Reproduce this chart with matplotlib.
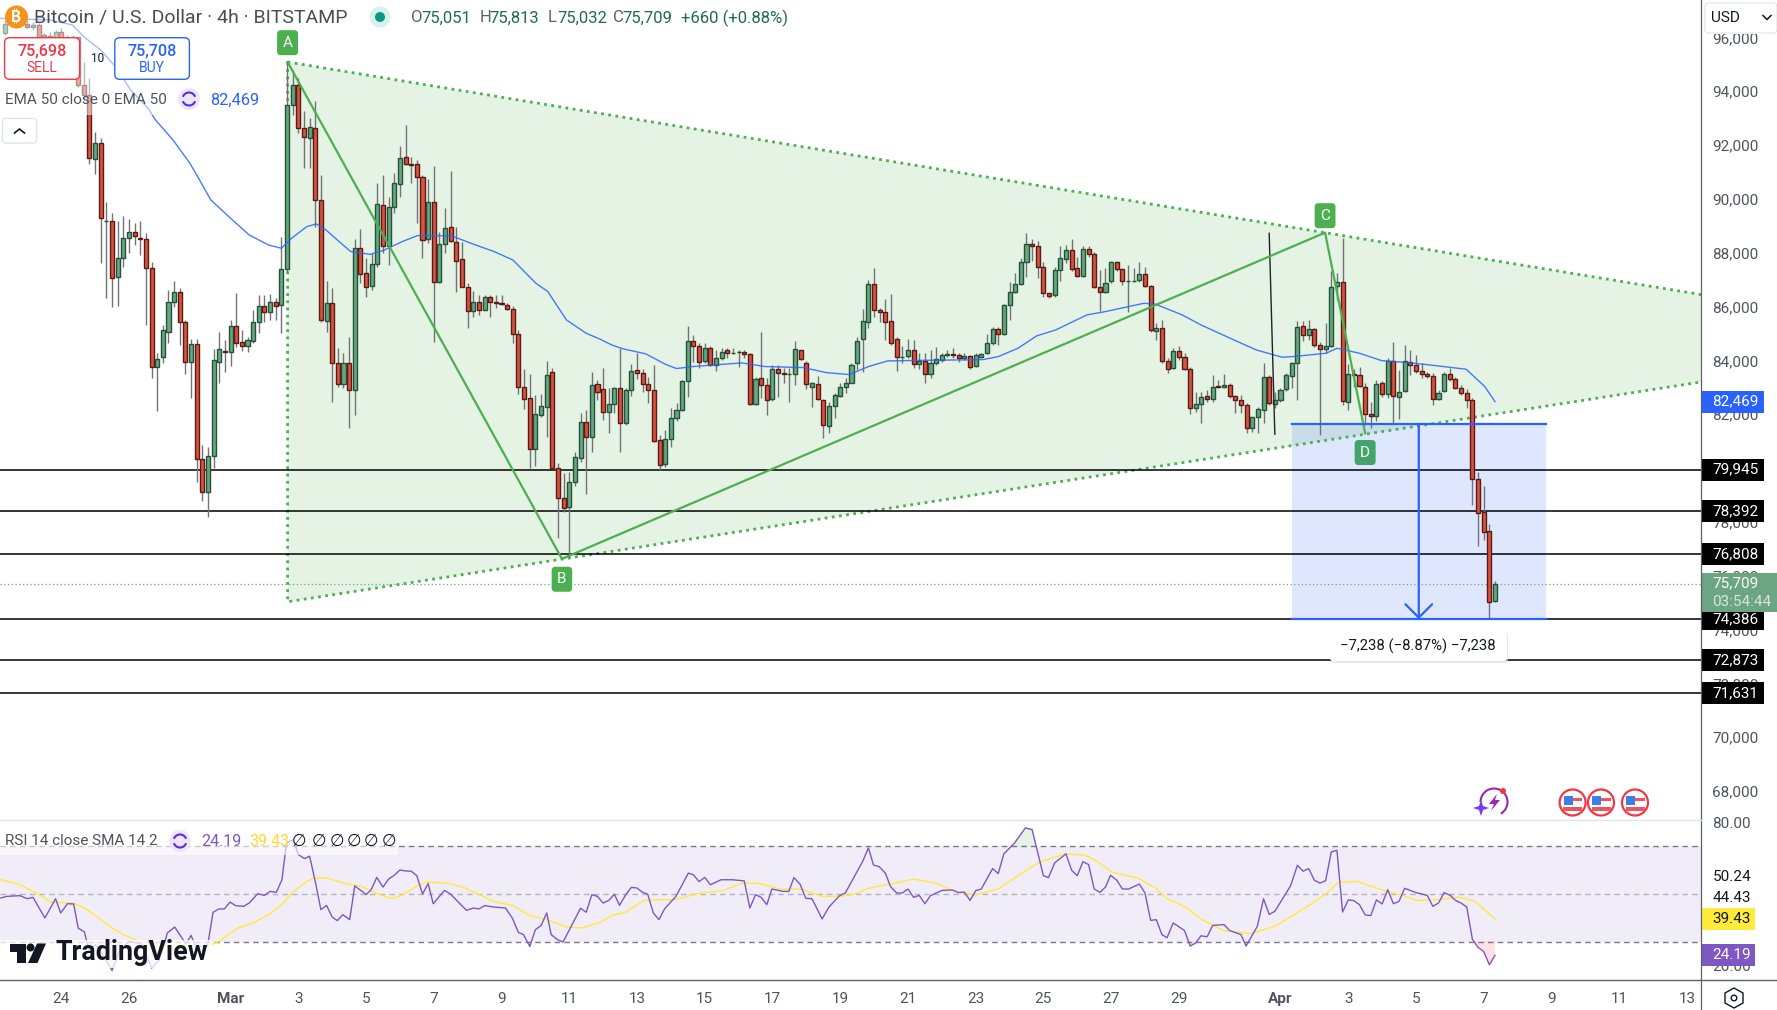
import numpy as np
import matplotlib
matplotlib.use("Agg")
import matplotlib.pyplot as plt
from matplotlib.patches import Rectangle, FancyBboxPatch, Circle, Polygon, Arc

plt.rcParams['font.family'] = ['Roboto', 'DejaVu Sans']

# 4h candles, bar 0 = Mar 1 00:00
first_bar = -40
opens = [
    96175, 96580, 96500, 96645, 96500, 96370, 96460, 96090, 96050, 96000,
    96190, 96000, 95900, 96000, 94230, 93860, 91470, 92060, 89180, 89180,
    87090, 87790, 88535, 88760, 88560, 88500, 87420, 83745, 84115, 85070,
    86160, 86555, 85415, 83955, 84600, 80330, 79100, 80440, 83955, 84365,
    84300, 85280, 84675, 84550, 84735, 85415, 86025, 85810, 86160, 86050,
    87385, 93475, 94220, 92620, 92250, 92620, 89950, 85480, 86120, 83895,
    83115, 83895, 82890, 88165, 87235, 86780, 87570, 89760, 88265, 89685,
    90540, 91545, 91285, 91285, 90825, 88500, 89875, 86925, 88315, 88945,
    88390, 87755, 86715, 85850, 86160, 85875, 86345, 86160, 86150, 86060,
    85900, 84970, 83000, 82595, 80690, 81985, 82285, 83560, 79995, 78880,
    78570, 79475, 80390, 81700, 81170, 83115, 82930, 82075, 82370, 82965,
    81690, 82890, 83630, 83520, 83115, 82890, 81035, 80140, 81070, 81850,
    82150, 83225, 84710, 84525, 83970, 84450, 83820, 84080, 84375, 84280,
    84330, 84300, 84225, 82370, 83335, 83075, 82555, 83670, 83520, 83485,
    83485, 84375, 83895, 83025, 83115, 82520, 81550, 82295, 82670, 83025,
    83175, 83895, 84785, 85415, 86830, 85865, 85790, 85455, 84785, 84115,
    84155, 84375, 83855, 83970, 83485, 83895, 84005, 84215, 84230, 84190,
    84080, 84155, 83785, 84115, 84265, 84635, 85155, 84970, 86050, 86530,
    86830, 87645, 88315, 88240, 87460, 86495, 86420, 87345, 87755, 88090,
    87420, 87125, 88130, 87940, 86715, 86555, 86940, 87645, 87385, 86940,
    86950, 87000, 87200, 86755, 85105, 85195, 83970, 83710, 84340, 84115,
    83670, 82220, 82370, 82695, 82580, 83050, 83025, 83075, 82670, 82520,
    82335, 81480, 81885, 82150, 83375, 82370, 82520, 82925, 83410, 83895,
    85270, 84935, 85155, 84560, 84415, 84525, 86755, 86900, 82445, 83485,
    83450, 83000, 81995, 81925, 83150, 82740, 83970, 82630, 82855, 83930,
    83820, 83595, 83485, 83410, 82555, 82855, 83485, 83300, 82965, 82780,
    82520, 79585, 78360, 77665, 75051]
highs = [
    96645, 96710, 96710, 96770, 96645, 96580, 96520, 96150, 96210, 96270,
    96335, 96090, 96090, 96025, 95100, 94480, 92500, 92275, 89900, 89465,
    89180, 89365, 89240, 89095, 89190, 88720, 87640, 84265, 85320, 86620,
    86950, 86680, 85500, 84800, 84800, 80860, 80800, 84425, 85045, 84760,
    85500, 86490, 85130, 84885, 85875, 86430, 86430, 86455, 86310, 88570,
    95085, 94790, 94480, 93265, 93000, 93635, 90890, 86950, 86680, 84450,
    84265, 84870, 88500, 88870, 87795, 87980, 90580, 90890, 90085, 90975,
    91980, 92745, 91570, 91445, 90890, 90725, 91220, 88760, 89650, 91035,
    88970, 88410, 86865, 86590, 86430, 86430, 86430, 86430, 86430, 86125,
    86020, 85130, 83680, 83500, 82720, 82755, 83980, 83720, 80180, 79810,
    79860, 80600, 82030, 82160, 83570, 83275, 83710, 82965, 83025, 84450,
    82965, 83870, 84265, 83670, 83400, 83830, 81235, 81420, 82220, 82410,
    83275, 85280, 84945, 84635, 84635, 84535, 84390, 84450, 84450, 84470,
    84390, 84390, 84265, 83400, 85055, 83335, 83830, 83830, 83710, 83710,
    84725, 84390, 83980, 83210, 83420, 82555, 82470, 82780, 83150, 83335,
    83895, 84860, 85900, 87000, 87420, 85935, 86280, 86470, 84885, 84540,
    84785, 84760, 84265, 84265, 84390, 84490, 84265, 84390, 84450, 84265,
    84265, 84200, 84265, 84265, 84970, 85255, 85255, 86100, 86900, 87235,
    87795, 88730, 88500, 88450, 87670, 86495, 87485, 88250, 88290, 88510,
    87855, 88250, 88250, 88040, 87360, 87420, 87695, 87695, 87420, 87545,
    87420, 87670, 87485, 86805, 85380, 85500, 84080, 84450, 84540, 84265,
    83770, 82815, 82840, 82905, 83460, 83275, 83500, 83150, 82720, 82720,
    82410, 81910, 82285, 83895, 83460, 82840, 82965, 83545, 83955, 85465,
    85465, 85500, 85195, 84700, 85380, 87325, 87235, 88535, 83870, 83670,
    83770, 83150, 82470, 83275, 83250, 84080, 84690, 83645, 84575, 84390,
    84200, 83895, 83585, 83520, 82905, 83585, 83710, 83400, 83090, 82925,
    82595, 79845, 79315, 77925, 75813]
lows = [
    96090, 96460, 96400, 96460, 96335, 96270, 95960, 95840, 95780, 95720,
    95530, 95655, 94910, 94170, 93670, 91300, 90910, 87610, 86310, 85990,
    86035, 87480, 87980, 88290, 87920, 85320, 83360, 82135, 83920, 84640,
    85980, 84575, 83500, 82605, 79485, 78780, 78200, 80005, 83175, 83585,
    83795, 84510, 84350, 84315, 84660, 85010, 85440, 85500, 85500, 85030,
    87300, 93115, 92435, 91135, 91135, 88970, 85440, 85070, 82460, 83025,
    82990, 81470, 81985, 86865, 86370, 86620, 87485, 87980, 87545, 89465,
    90080, 91260, 90605, 89095, 87795, 88350, 84700, 86865, 87980, 88410,
    86555, 86715, 85195, 85625, 85690, 85875, 85625, 85935, 86060, 85875,
    84650, 82755, 82200, 80005, 80080, 81910, 81170, 79990, 77420, 78385,
    76675, 79315, 80240, 79050, 80610, 82530, 81790, 81295, 82035, 80610,
    81600, 82695, 83310, 82840, 82430, 80960, 79930, 80055, 80800, 81765,
    82135, 82655, 83955, 83735, 83895, 83795, 83610, 84020, 84080, 84240,
    83770, 84080, 82350, 82350, 82595, 81985, 82495, 82655, 83150, 82470,
    83090, 84015, 82940, 82260, 82530, 81135, 81295, 81875, 82655, 82805,
    83175, 83645, 83585, 85220, 85625, 85440, 84760, 84575, 83620, 83895,
    84080, 83710, 83680, 83150, 83335, 83830, 83955, 84140, 84080, 83955,
    84015, 83680, 83770, 84080, 84240, 84575, 84575, 84945, 85500, 86490,
    86805, 87110, 87695, 87075, 86370, 86310, 86370, 86950, 87610, 87335,
    87090, 87090, 87855, 86680, 85850, 86495, 86865, 87335, 86805, 85810,
    86900, 86925, 86715, 85070, 84760, 83895, 83545, 83670, 84015, 83645,
    82000, 82100, 81665, 82470, 82470, 82965, 82965, 82595, 82035, 82035,
    81295, 81355, 81320, 81665, 82345, 82220, 82470, 82880, 82965, 82530,
    84735, 84760, 84510, 81235, 84265, 84510, 86245, 82345, 82160, 83025,
    83025, 81605, 81505, 81765, 82655, 82595, 81665, 81825, 82840, 83460,
    83525, 83335, 83335, 82345, 82530, 82840, 83250, 82925, 82715, 82220,
    78630, 77110, 77330, 74386, 75032]
closes = [
    96500, 96500, 96580, 96520, 96370, 96460, 96025, 95965, 95980, 96190,
    95930, 95840, 96025, 94230, 93860, 91510, 92060, 89280, 89180, 87050,
    87790, 88535, 88760, 88620, 88510, 87420, 83745, 84040, 85130, 86160,
    86555, 85415, 83955, 84600, 80330, 79100, 80440, 84005, 84415, 84300,
    85280, 84660, 84550, 84760, 85415, 86025, 85810, 86160, 86035, 87385,
    93475, 94220, 92620, 92310, 92670, 89950, 85500, 86120, 83895, 83115,
    83895, 82890, 88165, 87200, 86715, 87585, 89800, 88265, 89685, 90580,
    91510, 91285, 91250, 90800, 88475, 89875, 86925, 88315, 88910, 88435,
    87705, 86715, 85850, 86160, 85875, 86345, 86160, 86150, 86100, 85925,
    84970, 83025, 82580, 80690, 82010, 82300, 83450, 79995, 78905, 78530,
    79475, 80400, 81700, 81145, 83075, 82840, 82075, 82370, 82965, 81690,
    82890, 83595, 83520, 83115, 82915, 81020, 80105, 81070, 81850, 82150,
    83225, 84710, 84525, 83930, 84450, 83820, 84080, 84300, 84265, 84290,
    84300, 84225, 82370, 83300, 83075, 82520, 83670, 83520, 83485, 83500,
    84415, 84040, 83115, 83150, 82555, 81590, 82295, 82705, 83000, 83150,
    83820, 84710, 85455, 86830, 85865, 85790, 85415, 84640, 84115, 84130,
    84375, 83855, 83970, 83485, 83895, 84040, 84190, 84230, 84190, 84080,
    84155, 83770, 84190, 84230, 84635, 85155, 84970, 86050, 86530, 86830,
    87645, 88315, 88240, 87460, 86495, 86410, 87345, 87790, 88090, 87385,
    87125, 88130, 87940, 86715, 86555, 86865, 87645, 87385, 86940, 86950,
    86965, 87200, 86755, 85130, 85195, 83970, 83670, 84340, 84115, 83670,
    82220, 82370, 82655, 82580, 83025, 83025, 83075, 82670, 82520, 82335,
    81480, 81885, 82185, 83375, 82410, 82520, 82890, 83450, 83895, 85230,
    84935, 85155, 84560, 84415, 84525, 86715, 86900, 82480, 83485, 83450,
    83065, 81995, 81925, 83115, 82740, 83970, 82670, 82815, 83970, 83820,
    83595, 83485, 83410, 82555, 82780, 83485, 83300, 82965, 82780, 82520,
    79585, 78320, 77640, 75040, 75709]

# EMA 50
ema_bars = [-40.7, -32, -28, -26, -23, -20.4, -17.7, -14.6, -13.3, -10.2, -7.2, -5.5, -3.5, 0, 3.3, 6.7, 9, 10.8,
            13.5, 15.2, 16.9, 18.9, 21.3, 24.7, 27, 30.4, 33.1, 35.8, 39.2, 42.6, 46.7, 50, 54.1, 56.2, 59.5, 63,
            65.5, 67.5, 69.6, 73.6, 77, 79, 81.8, 85.8, 90.6, 94.7, 101.5, 105.5, 109.6, 113, 116.4, 123.2, 130,
            133.3, 136, 139.5, 142.8, 146.2, 151.7, 155, 161.8, 163.9, 168.6, 171.9, 178.4, 181.7, 186.3, 188.2,
            194.1, 196, 200, 203.9, 208.5, 212.4, 218.9, 222.2, 224]
ema_values = [96707, 96645, 96460, 96025, 95531, 94912, 94045, 93364, 92931, 92189, 91322, 90703, 89960, 89279,
              88660, 88289, 88165, 88536, 88970, 89069, 88846, 88474, 88041, 87942, 88078, 88413, 88635, 88635,
              88623, 88350, 88041, 87732, 86865, 86556, 85503, 85008, 84785, 84575, 84426, 84240, 83857, 83696,
              83770, 83832, 83906, 83770, 83733, 83547, 83473, 83770, 83980, 84005, 84018, 84030, 84141, 84451,
              84909, 85132, 85689, 85813, 86122, 86085, 85689, 85318, 84698, 84389, 84117, 84141, 84265, 84451,
              84265, 83993, 83919, 83832, 83671, 83027, 82469]

# RSI 14 and its SMA
rsi_bars = [-40.7, -39.7, -37.3, -36, -35, -32.9, -31, -30.1, -28.9, -27.8, -27, -25.9, -25.1, -23.9, -23, -21, -19.7,
            -18, -15.7, -14, -12.6, -11.2, -9.9, -7.9, -7, -6.2, -4.1, -3.1, -2.1, -1.1, -0.1, 0.9, 2.3, 3.3, 4.8, 6,
            7, 8.1, 9.1, 9.9, 11.1, 12, 13.1, 14, 15, 16, 17, 18, 18.9, 19.9, 21.1, 22, 23.3, 24, 24.9, 25.9, 27, 28,
            29, 30, 31, 32, 33, 34, 35, 35.9, 37.9, 38.9, 41.8, 43, 44, 45, 46.7, 48.7, 49.9, 51, 51.9, 53, 54, 55,
            56, 56.8, 57.9, 58.9, 62, 63, 64, 65, 66, 67, 68, 68.9, 70, 71, 72, 73, 73.9, 74.9, 75.9, 76.9, 78.9,
            81.1, 82, 83, 84, 85, 86.9, 88.9, 91, 92, 93, 94, 95, 95.9, 97.9, 98.9, 99.8, 100.9, 101.9, 103, 104.8,
            106, 107.9, 108.9, 112, 113, 113.9, 114.9, 116, 116.9, 118, 119, 120, 121, 122, 123, 124, 126, 127.9,
            128.9, 130, 131, 132, 133, 133.9, 135, 136, 137, 138.9, 140.8, 142, 144, 144.9, 146, 148, 149, 150, 151,
            152, 153, 154, 155, 155.9, 157, 158, 159.1, 161, 162, 163, 164, 165, 165.9, 167, 167.9, 169, 170, 171,
            171.9, 173, 174, 176, 177, 179, 179.9, 181.9, 183, 184, 185, 187.8, 189, 190, 191, 192, 193, 194, 195,
            196, 197, 198, 199, 200, 201, 202, 203, 204, 205, 206, 207, 208, 210, 212, 213, 214, 215, 216.1, 217,
            218, 219, 220, 221, 222, 223, 224]
rsi_values = [48.3, 49.0, 49.3, 48.0, 48.6, 39.9, 48.0, 42.0, 45.9, 45.8, 35.7, 34.0, 26.5, 28.7, 25.8, 17.8, 25.8,
              30.1, 28.9, 18.8, 22.3, 33.6, 36.1, 28.9, 32.6, 27.9, 27.9, 42.3, 43.7, 43.7, 46.6, 45.1, 44.8, 46.2,
              50.1, 49.4, 51.1, 50.7, 56.0, 71.5, 72.9, 66.6, 64.9, 65.9, 55.3, 43.4, 45.2, 40.3, 38.8, 41.3, 39.2,
              53.4, 51.1, 49.7, 51.8, 57.0, 52.9, 56.3, 57.9, 60.1, 59.7, 59.6, 57.7, 50.0, 54.4, 45.9, 51.5, 50.1,
              43.1, 44.1, 43.7, 45.1, 44.5, 44.1, 39.9, 33.8, 32.9, 27.9, 35.0, 36.7, 42.0, 32.9, 30.8, 29.8, 44.0,
              42.3, 49.7, 49.0, 46.2, 47.3, 49.9, 45.2, 49.7, 52.8, 52.5, 50.7, 49.9, 42.0, 39.2, 43.8, 49.0, 58.8,
              58.1, 55.2, 57.0, 53.9, 56.0, 56.0, 55.5, 44.1, 49.7, 48.6, 45.5, 52.1, 51.1, 51.1, 56.9, 54.1, 48.2,
              48.0, 39.5, 44.5, 49.3, 50.4, 63.8, 69.4, 62.2, 61.5, 58.8, 53.2, 50.4, 50.4, 52.1, 48.6, 49.4, 45.9,
              49.3, 51.5, 51.7, 50.6, 50.8, 47.3, 51.4, 52.1, 56.0, 60.7, 58.6, 66.9, 71.5, 77.8, 77.1, 57.7, 56.9,
              63.1, 66.9, 60.0, 57.7, 63.6, 62.4, 52.1, 50.7, 52.9, 57.9, 55.8, 52.1, 52.1, 54.2, 50.4, 38.9, 39.2,
              32.9, 31.6, 37.8, 36.4, 34.6, 28.1, 29.4, 32.4, 32.0, 36.8, 37.1, 34.6, 32.9, 28.1, 36.4, 48.0, 41.4,
              42.7, 53.5, 62.1, 59.6, 60.7, 55.8, 54.6, 55.6, 67.7, 68.4, 42.4, 47.5, 47.2, 45.5, 41.2, 40.9, 47.5,
              45.8, 51.8, 45.9, 46.9, 52.4, 50.6, 49.4, 44.8, 46.2, 50.6, 49.4, 47.3, 46.2, 44.5, 31.0, 27.5, 25.8,
              20.2, 24.19]
sma_bars = [-40.7, -37.3, -33.9, -31.9, -27.8, -25.8, -21, -19, -15.7, -13.6, -6.8, -4.1, -2.1, 1.3, 4, 7, 9.1, 10.8,
            13.5, 14.8, 17.2, 20.3, 23, 25.7, 28.4, 30.1, 33.1, 34.8, 38.6, 41.3, 46.7, 50.1, 53.1, 56.2, 59.6, 62.3,
            65.5, 67.5, 69.9, 73.3, 76, 78.7, 83.1, 87.2, 90.6, 93.7, 97.4, 101.1, 104.8, 108.2, 110.6, 113, 117.7,
            121.1, 125.2, 128.6, 132, 136, 140.1, 143.2, 147.9, 151.3, 153, 156.1, 160.8, 163.9, 165.9, 169, 171.9,
            175.8, 180.7, 185, 190.8, 194.1, 196.2, 199.6, 203.9, 207.8, 210.1, 214.3, 217.6, 220.5, 224]
sma_values = [56.0, 53.9, 49.7, 46.6, 46.2, 44.1, 35.7, 32.9, 29.4, 28.0, 28.4, 27.9, 30.0, 35.7, 37.8, 41.7, 45.5,
              50.4, 55.3, 56.7, 56.7, 54.3, 53.4, 50.4, 48.1, 49.2, 53.4, 55.1, 54.5, 52.8, 46.8, 45.0, 40.8, 39.1,
              36.1, 35.7, 38.1, 40.9, 42.3, 47.3, 47.6, 47.6, 50.4, 51.4, 54.6, 54.4, 52.1, 52.1, 49.0, 49.0, 50.0,
              52.4, 54.6, 56.3, 54.4, 50.8, 49.7, 52.1, 58.6, 63.3, 66.9, 66.3, 64.5, 59.3, 56.7, 52.5, 48.0, 44.8,
              39.5, 34.7, 33.3, 36.4, 44.8, 50.1, 54.9, 55.3, 51.8, 49.3, 47.3, 47.6, 48.7, 46.9, 39.43]

# drawings on the chart
levels = [79945, 78392, 76808, 74386, 72873, 71631]
triangle_bars = [10.1, 10.1, 260.6, 260.6]
triangle_prices = [95085, 75032, 83200, 86442]
abcd_bars = [10.1, 58.7, 193.9, 201]
abcd_prices = [95085, 76627, 88746, 81294]
abcd_names = ['A', 'B', 'C', 'D']
measure_bars = [188, 233.1, 210.5]
measure_prices = [81624, 74386]
black_line_bars = [184, 185]
black_line_prices = [88722, 81257]

price_ticks = [68000, 70000, 72000, 74000, 76000, 78000, 82000, 84000, 86000, 88000, 90000, 92000, 94000, 96000]
rsi_ticks = [20, 80]
date_days = [-5, -3, 0, 2, 4, 6, 8, 10, 12, 14, 16, 18, 20, 22, 24, 26, 28, 31, 33, 35, 37, 39, 41, 43]
date_labels = ['24', '26', 'Mar', '3', '5', '7', '9', '11', '13', '15', '17', '19', '21', '23', '25', '27', '29',
               'Apr', '3', '5', '7', '9', '11', '13']

W, H = 1777, 1010
GRAY = '#50535e'
BLUE = '#2962ff'
GREEN = '#4caf50'
PURPLE = '#7e57c2'
YELLOW = '#fdd835'

fig = plt.figure(figsize=(W / 100, H / 100), dpi=100, facecolor='white')
ax = fig.add_axes([0, 1 - 819.4 / H, 1701 / W, 819.4 / H])
ax_rsi = fig.add_axes([0, 1 - 980 / H, 1701 / W, (980 - 819.4) / H])

bars = first_bar + np.arange(len(opens))
o = np.array(opens)
c = np.array(closes)
up = c >= o

# pattern and measure tool under the candles
ax.fill(triangle_bars, triangle_prices, color=GREEN, alpha=0.15, lw=0, zorder=1)
ax.plot([triangle_bars[0], triangle_bars[3]], [triangle_prices[0], triangle_prices[3]], color=GREEN,
        lw=2, ls=(0, (1, 1.6)), zorder=1.5)
ax.plot(triangle_bars[:3], triangle_prices[:3], color=GREEN, lw=2, ls=(0, (1, 1.6)), zorder=1.5)
ax.add_patch(Rectangle((measure_bars[0], measure_prices[1]), measure_bars[1] - measure_bars[0],
                       measure_prices[0] - measure_prices[1], fc=BLUE, alpha=0.15, lw=0, zorder=1))

for lv in levels:
    ax.axhline(lv, color='black', lw=1.1, zorder=2)
ax.axhline(closes[-1], color='#6ba583', lw=0.9, ls=(0, (1, 2)), zorder=2)

# candles
ax.vlines(bars, lows, highs, color='#737375', lw=1, zorder=3)
ax.bar(bars[up], (c - o)[up], bottom=o[up], width=0.72, color='#6ba583', edgecolor='#225437', lw=1, zorder=4)
ax.bar(bars[~up], (c - o)[~up], bottom=o[~up], width=0.72, color='#d75442', edgecolor='#5b1a13', lw=1, zorder=4)

ax.plot(ema_bars, ema_values, color=BLUE, lw=1, zorder=5, alpha=0.85)
ax.plot(black_line_bars, black_line_prices, color='#222222', lw=1, zorder=5)
ax.plot(abcd_bars, abcd_prices, color=GREEN, lw=1.6, zorder=5)

ax.plot(measure_bars[:2], [measure_prices[0]] * 2, color=BLUE, lw=1.6, zorder=5)
ax.plot(measure_bars[:2], [measure_prices[1]] * 2, color=BLUE, lw=1.6, zorder=5)
ax.annotate('', xy=(measure_bars[2], measure_prices[1]), xytext=(measure_bars[2], measure_prices[0]),
            arrowprops=dict(arrowstyle='->,head_width=0.48,head_length=0.48', color=BLUE, lw=1.6,
                            shrinkA=0, shrinkB=0, mutation_scale=20), zorder=5)

# A B C D tags
tag_offset = {'A': 13.9, 'B': -14.7, 'C': 12.2, 'D': -13.9}
for name, x, y in zip(abcd_names, abcd_bars, abcd_prices):
    ax.annotate(name, xy=(x, y), xytext=(0, tag_offset[name]), textcoords='offset points', ha='center',
                va='center', color='white', fontsize=11, zorder=6,
                bbox=dict(boxstyle='round,pad=0.36,rounding_size=0.25', fc=GREEN if name != 'D' else '#43a46b', lw=0))

ax.set_xlim(-40.85, 260.5)
ax.set_ylim(66947, 97389)
ax.set_xticks([])
ax.yaxis.tick_right()
ax.set_yticks(price_ticks)
ax.set_yticklabels([f'{t:,}' for t in price_ticks])
ax.tick_params(axis='y', length=0, pad=8, labelsize=11, labelcolor=GRAY)
for s in ax.spines.values():
    s.set_visible(False)

# axis tags
def price_tag(axis, value, text, fc, tc, height, width=62.6):
    tr = axis.get_yaxis_transform()
    axis.add_patch(Rectangle((1.0, value - height / 2), width / 1701, height, transform=tr, clip_on=False,
                             fc=fc, lw=0, zorder=8))
    axis.text(1 + 11 / 1701, value, text, transform=tr, color=tc, fontsize=11, va='center', ha='left', zorder=9,
              clip_on=False)


for lv in levels:
    price_tag(ax, lv, f'{lv:,}', 'black', 'white', 817)
price_tag(ax, ema_values[-1], f'{ema_values[-1]:,}', BLUE, 'white', 817)
tr = ax.get_yaxis_transform()
ax.add_patch(Rectangle((1.0, 74664), 75.5 / 1701, 1426, transform=tr, clip_on=False, fc='#6ba583', lw=0, zorder=8))
ax.text(1 + 11 / 1701, closes[-1], f'{closes[-1]:,}', transform=tr, color='white', fontsize=11, va='center',
        zorder=9, clip_on=False)
ax.text(1 + 11 / 1701, closes[-1] - 700, '03:54:44', transform=tr, color='#d5e7dd', fontsize=11, va='center',
        zorder=9, clip_on=False)

# RSI pane
r_b = np.array(rsi_bars)
r_v = np.array(rsi_values)
ax_rsi.axhspan(30, 70, color=PURPLE, alpha=0.1, lw=0, zorder=1)
for lv, a in zip([70, 50, 30], [1, 0.5, 1]):
    ax_rsi.axhline(lv, color='#787b86', lw=1, ls=(0, (4, 3)), alpha=a, zorder=2)
ax_rsi.fill_between(r_b, r_v, 70, where=r_v > 70, interpolate=True, color=GREEN, alpha=0.15, lw=0, zorder=2)
ax_rsi.fill_between(r_b, r_v, 30, where=r_v < 30, interpolate=True, color='#f23645', alpha=0.15, lw=0, zorder=2)
ax_rsi.plot(sma_bars, sma_values, color='#ffe93b', lw=1, zorder=3)
ax_rsi.plot(rsi_bars, rsi_values, color=PURPLE, lw=1, zorder=4)
ax_rsi.set_xlim(-40.85, 260.5)
ax_rsi.set_ylim(13.8, 81.4)
ax_rsi.yaxis.tick_right()
ax_rsi.set_yticks(rsi_ticks)
ax_rsi.set_yticklabels([f'{t:.2f}' for t in rsi_ticks])
ax_rsi.tick_params(axis='y', length=0, pad=8, labelsize=11, labelcolor=GRAY)
ax_rsi.set_xticks([6 * d for d in date_days])
ax_rsi.set_xticklabels(date_labels)
ax_rsi.tick_params(axis='x', length=0, pad=8.5, labelsize=11, labelcolor=GRAY)
for lab in ax_rsi.get_xticklabels():
    if lab.get_text() in ('Mar', 'Apr'):
        lab.set_fontweight('bold')
for s in ax_rsi.spines.values():
    s.set_visible(False)
price_tag(ax_rsi, 39.43, '39.43', '#ffeb3b', '#131722', 9.2, width=54)
price_tag(ax_rsi, 24.19, '24.19', PURPLE, 'white', 9.2, width=54)

# interface parts on a pixel overlay
ui = fig.add_axes([0, 0, 1, 1], facecolor='none')
ui.set_xlim(0, W)
ui.set_ylim(H, 0)
ui.axis('off')

ui.add_patch(Rectangle((0, 0), 262, 115, fc='white', alpha=0.5, lw=0))
ui.add_patch(Rectangle((0, 822), 398, 33, fc='white', alpha=0.6, lw=0))
ui.add_patch(Rectangle((0, 940), 212, 28, fc='white', alpha=0.75, lw=0))
ui.add_patch(Rectangle((1702, 0), 75, 34, fc='white', lw=0))
ui.plot([1701, 1701], [0, H], color='#5d606b', lw=0.9)
ui.plot([0, W], [980, 980], color='#5d606b', lw=1)
ui.plot([0, 1701], [819.5, 819.5], color='#e0e3eb', lw=1)

# title row
ui.add_patch(Circle((16.5, 17), 11.5, fc='#f7931a', lw=0))
ui.text(16.5, 17.5, '\u20bf', color='white', fontsize=11, ha='center', va='center', fontweight='bold',
        family=['Inter', 'Noto Sans', 'Open Sans', 'Lato', 'Liberation Sans', 'DejaVu Sans'])
ui.text(33.5, 18, 'Bitcoin / U.S. Dollar \u00b7 4h \u00b7 BITSTAMP', color='#4a4d58', fontsize=14, va='center')
ui.add_patch(Circle((380, 17), 10.5, fc='#d9f1ee', lw=0))
ui.add_patch(Circle((380, 17), 5, fc='#089981', lw=0))
ohlc_letters = ['O', 'H', 'L', 'C']
ohlc_texts = ['75,051', '75,813', '75,032', '75,709']
for name, val, x in zip(ohlc_letters, ohlc_texts, [411.5, 480, 548, 613]):
    ui.text(x, 18, name, color='#5d606b', fontsize=12, va='center')
    ui.text(x + 9.5, 18, val, color='#1f6b52', fontsize=12, va='center')
ui.text(681, 18, '+660 (+0.88%)', color='#1f6b52', fontsize=12, va='center')

# order buttons
ui.add_patch(FancyBboxPatch((4.6, 37.7), 75, 41.6, boxstyle='round,pad=0,rounding_size=5', fc='white',
                            ec='#f23645', lw=1))
ui.add_patch(FancyBboxPatch((114.8, 37.7), 74.6, 41.6, boxstyle='round,pad=0,rounding_size=5', fc='white',
                            ec=BLUE, lw=1))
ui.text(42, 51, '75,698', color='#f23645', fontsize=11.6, ha='center', va='center', fontweight='medium')
ui.text(42, 68, 'SELL', color='#f23645', fontsize=10, ha='center', va='center')
ui.text(152, 51, '75,708', color=BLUE, fontsize=11.6, ha='center', va='center', fontweight='medium')
ui.text(152, 68, 'BUY', color=BLUE, fontsize=10, ha='center', va='center')
ui.text(97.5, 58, '10', color='#131722', fontsize=8.5, ha='center', va='center')

# indicator legends
def sync_icon(x, y):
    ui.add_patch(Circle((x, y), 11, fc='#ece6f8', lw=0))
    ui.add_patch(Arc((x, y), 13, 13, theta1=200, theta2=340, color='#5b2be0', lw=1.5))
    ui.add_patch(Arc((x, y), 13, 13, theta1=20, theta2=160, color='#5b2be0', lw=1.5))


ui.text(5, 100, 'EMA 50 close 0 EMA 50', color=GRAY, fontsize=11, va='center')
sync_icon(189, 99)
ui.text(210, 100, '82,469', color=BLUE, fontsize=11.8, va='center')
ui.add_patch(FancyBboxPatch((2.5, 118.5), 34, 24.5, boxstyle='round,pad=0,rounding_size=3', fc='white',
                            ec='#e0e3eb', lw=1))
ui.plot([14.5, 19.5, 24.5], [133, 129, 133], color='#131722', lw=1.2)

ui.text(5, 841, 'RSI 14 close SMA 14 2', color=GRAY, fontsize=11, va='center')
sync_icon(180, 841)
ui.text(201, 841, '24.19', color=PURPLE, fontsize=11.6, va='center')
ui.text(249, 841, '39.43', color=YELLOW, fontsize=11.6, va='center')
for x in [299, 319, 337, 354, 371, 389]:
    ui.text(x, 841, '\u2205', color='#131722', fontsize=12, ha='center', va='center')
ui.text(1713, 877, '50.24', color='#131722', fontsize=11, va='center')
ui.text(1713, 897.5, '44.43', color='#131722', fontsize=11, va='center')

# measure label
ui.add_patch(FancyBboxPatch((1331, 632), 177, 31, boxstyle='round,pad=0,rounding_size=3', fc='#d8dae0',
                            alpha=0.6, lw=0))
ui.add_patch(FancyBboxPatch((1330, 630), 177, 31, boxstyle='round,pad=0,rounding_size=3', fc='white', lw=0))
ui.text(1418, 646, '\u22127,238 (\u22128.87%) \u22127,238', color='#131722', fontsize=10.7, ha='center', va='center')

# TradingView logo
ui.add_patch(Polygon([(9.5, 943.5), (25.5, 943.5), (25.5, 963), (17, 963), (17, 951.5), (9.5, 951.5)], fc='#131722', lw=0))
ui.add_patch(Circle((30.5, 947.5), 4, fc='#131722', lw=0))
ui.add_patch(Polygon([(46, 943.5), (37, 943.5), (28, 963), (37.5, 963)], fc='#131722', lw=0))
ui.text(56, 953, 'TradingView', color='#131722', fontsize=19.4, fontweight='bold', va='center')

# event icons
for x in [1572.6, 1601, 1635]:
    ui.add_patch(Circle((x, 802.5), 13, fc='white', ec='#f23645', lw=1.6))
    ui.add_patch(Rectangle((x - 9, 796), 9, 9, fc='#3d7fe6', lw=0))
    ui.add_patch(Rectangle((x, 798), 9.5, 3, fc='#f0555f', lw=0))
    ui.add_patch(Rectangle((x - 9.5, 807), 19, 4, fc='#f0555f', lw=0))
ui.add_patch(Arc((1494, 802), 27, 27, theta1=-180, theta2=60, color='#9c27b0', lw=1.5))
ui.add_patch(Polygon([(1497, 794), (1489, 804), (1494, 804), (1491, 811), (1500, 800), (1495, 800)], fc='#9c27b0', lw=0))
ui.add_patch(Circle((1503, 791), 3, fc='#f23645', lw=0))
ui.add_patch(Polygon([(1481, 800), (1483, 806), (1489, 808), (1483, 810), (1481, 816), (1479, 810), (1473, 808),
                      (1479, 806)], fc='#7c3aed', lw=0))

# top right and bottom right
ui.add_patch(FancyBboxPatch((1705, 3), 72, 30, boxstyle='round,pad=0,rounding_size=4', fc='white', ec='#e0e3eb',
                            lw=0.8, clip_on=False))
ui.text(1711, 18, 'USD', color='#131722', fontsize=11, ha='left', va='center')
ui.plot([1763, 1767, 1771], [15.5, 19.5, 15.5], color='#131722', lw=1.1)
ui.add_patch(Polygon([(1734, 988), (1743, 993), (1743, 1003), (1734, 1008), (1725, 1003), (1725, 993)], fc='white',
                     ec='#131722', lw=1))
ui.add_patch(Circle((1734, 998), 2.8, fc='white', ec='#131722', lw=1))

fig.savefig('out.png', dpi=100)
